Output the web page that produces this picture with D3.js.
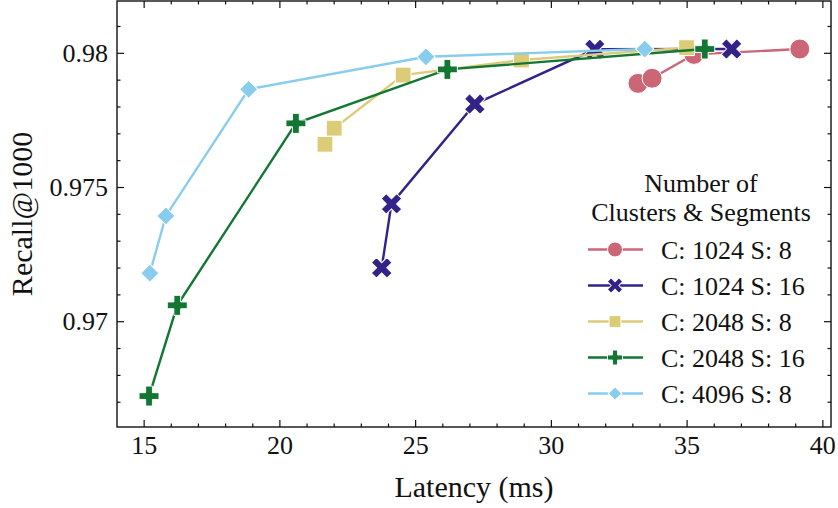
<!DOCTYPE html>
<html>
<head>
<meta charset="utf-8">
<script src="https://cdn.jsdelivr.net/npm/d3@7"></script>
<style>
  html, body { margin: 0; padding: 0; background: #fff; }
</style>
</head>
<body>
<div id="chart"></div>
<script>
// series (latency in ms, recall@1000)
var seriesNames = ["C: 1024 S: 8", "C: 1024 S: 16", "C: 2048 S: 8", "C: 2048 S: 16", "C: 4096 S: 8"];
var seriesColors = ["#CC6677", "#332288", "#DDCC77", "#117733", "#88CCEE"];
var seriesMarkers = ["circle", "x", "square", "plus", "diamond"];

var latC1024S8 = [33.19, 33.71, 35.25, 39.15];
var recallC1024S8 = [0.97888, 0.97907, 0.97996, 0.98016];

var latC1024S16 = [23.75, 24.11, 27.18, 31.60, 36.64];
var recallC1024S16 = [0.97201, 0.97439, 0.97811, 0.98015, 0.98016];

var latC2048S8 = [21.66, 22.00, 24.54, 28.90, 34.98];
var recallC2048S8 = [0.97661, 0.97721, 0.97919, 0.97975, 0.98021];

var latC2048S16 = [15.18, 16.22, 20.59, 26.17, 35.65];
var recallC2048S16 = [0.96723, 0.97061, 0.97739, 0.97940, 0.98016];

var latC4096S8 = [15.21, 15.80, 18.85, 25.38, 33.44];
var recallC4096S8 = [0.97181, 0.97394, 0.97866, 0.97987, 0.98016];

var xTicks = [15, 20, 25, 30, 35, 40];
var yTicks = [0.97, 0.975, 0.98];
var yTickLabels = ["0.97", "0.975", "0.98"];

var latencies = [latC1024S8, latC1024S16, latC2048S8, latC2048S16, latC4096S8];
var recalls = [recallC1024S8, recallC1024S16, recallC2048S8, recallC2048S16, recallC4096S8];

var fontFam = "'Liberation Serif', 'Times New Roman', 'DejaVu Serif', serif";
var width = 838, height = 508;
var plot = {left: 117, right: 831, top: 1, bottom: 427};

var svg = d3.select("#chart").append("svg")
    .attr("width", width)
    .attr("height", height)
    .style("font-family", fontFam);

var x = d3.scaleLinear().domain([14.0, 40.3]).range([plot.left, plot.right]);
var y = d3.scaleLinear().domain([0.966077, 0.981949]).range([plot.bottom, plot.top]);

// thick cross, half length a, half thickness b
function crossPath(a, b) {
    return "M" + (-b) + "," + (-a) + "H" + b + "V" + (-b) + "H" + a + "V" + b + "H" + b +
        "V" + a + "H" + (-b) + "V" + b + "H" + (-a) + "V" + (-b) + "H" + (-b) + "Z";
}

// marker shapes, roughly matplotlib's o, X, s, P, D
function markerPath(kind, k) {
    k = k || 1;
    if (kind === "circle") return d3.symbol(d3.symbolCircle, 314 * k * k)();
    if (kind === "square") return d3.symbol(d3.symbolSquare, 250 * k * k)();
    if (kind === "diamond") return d3.symbol(d3.symbolSquare, 165 * k * k)();
    if (kind === "plus") return crossPath(10 * k, 3.4 * k);
    if (kind === "x") return crossPath(11 * k, 3.6 * k);
}
function markerRot(kind) {
    return (kind === "x" || kind === "diamond") ? 45 : 0;
}

// ticks, inward on all four sides
var minorX = d3.range(14, 41, 1);
var minorY = d3.range(0.967, 0.9815, 0.001);
var tickG = svg.append("g").attr("stroke", "#111").attr("stroke-width", 1.2);

minorX.forEach(function(v) {
    var len = (v % 5 === 0) ? 7 : 3.5;
    var px = x(v);
    if (px < plot.left + 1 || px > plot.right - 1) return;
    tickG.append("line").attr("x1", px).attr("x2", px).attr("y1", plot.bottom).attr("y2", plot.bottom - len);
    tickG.append("line").attr("x1", px).attr("x2", px).attr("y1", plot.top).attr("y2", plot.top + len);
});
minorY.forEach(function(v) {
    var isMajor = Math.abs(v * 1000 - Math.round(v * 200) * 5) < 0.01;
    var len = isMajor ? 7 : 3.5;
    var py = y(v);
    tickG.append("line").attr("x1", plot.left).attr("x2", plot.left + len).attr("y1", py).attr("y2", py);
    tickG.append("line").attr("x1", plot.right).attr("x2", plot.right - len).attr("y1", py).attr("y2", py);
});

// tick labels
svg.append("g").selectAll("text")
    .data(xTicks)
    .enter()
    .append("text")
        .attr("x", function(d) { return x(d); })
        .attr("y", 454)
        .attr("text-anchor", "middle")
        .attr("font-family", fontFam)
        .attr("font-size", "26px")
        .attr("fill", "#111")
        .text(function(d) { return d; });

svg.append("g").selectAll("text")
    .data(yTicks)
    .enter()
    .append("text")
        .attr("x", plot.left - 9)
        .attr("y", function(d) { return y(d) + 8.5; })
        .attr("text-anchor", "end")
        .attr("font-family", fontFam)
        .attr("font-size", "26px")
        .attr("fill", "#111")
        .text(function(d, i) { return yTickLabels[i]; });

// axis titles
svg.append("text")
    .attr("x", (plot.left + plot.right) / 2)
    .attr("y", 497)
    .attr("text-anchor", "middle")
    .attr("font-family", fontFam)
    .attr("font-size", "30px")
    .attr("fill", "#111")
    .text("Latency (ms)");

svg.append("text")
    .attr("transform", "translate(32," + (plot.top + plot.bottom) / 2 + ") rotate(-90)")
    .attr("text-anchor", "middle")
    .attr("font-family", fontFam)
    .attr("font-size", "30px")
    .attr("fill", "#111")
    .text("Recall@1000");

// series
var line = d3.line()
    .x(function(d) { return x(d[0]); })
    .y(function(d) { return y(d[1]); });

seriesNames.forEach(function(name, i) {
    var pts = latencies[i].map(function(v, j) { return [v, recalls[i][j]]; });
    var g = svg.append("g").attr("class", "series");
    g.append("path")
        .datum(pts)
        .attr("d", line)
        .attr("fill", "none")
        .attr("stroke", seriesColors[i])
        .attr("stroke-width", 2.4);
    g.selectAll(".marker")
        .data(pts)
        .enter()
        .append("path")
            .attr("class", "marker")
            .attr("d", markerPath(seriesMarkers[i]))
            .attr("transform", function(d) {
                return "translate(" + x(d[0]) + "," + y(d[1]) + ") rotate(" + markerRot(seriesMarkers[i]) + ")";
            })
            .attr("fill", seriesColors[i])
            .attr("stroke", "#fff")
            .attr("stroke-width", 1);
});

// frame
svg.append("rect")
    .attr("x", plot.left)
    .attr("y", plot.top)
    .attr("width", plot.right - plot.left)
    .attr("height", plot.bottom - plot.top)
    .attr("fill", "none")
    .attr("stroke", "#111")
    .attr("stroke-width", 1.4);

// legend
var legend = svg.append("g").attr("class", "legend");
legend.append("text")
    .attr("x", 701).attr("y", 192)
    .attr("text-anchor", "middle")
    .attr("font-family", fontFam)
    .attr("font-size", "26px")
    .attr("fill", "#111")
    .text("Number of");
legend.append("text")
    .attr("x", 701).attr("y", 221)
    .attr("text-anchor", "middle")
    .attr("font-family", fontFam)
    .attr("font-size", "26px")
    .attr("fill", "#111")
    .text("Clusters & Segments");

seriesNames.forEach(function(name, i) {
    var cy = 249.5 + i * 36;
    legend.append("line")
        .attr("x1", 588).attr("x2", 643)
        .attr("y1", cy).attr("y2", cy)
        .attr("stroke", seriesColors[i])
        .attr("stroke-width", 2.4);
    legend.append("path")
        .attr("d", markerPath(seriesMarkers[i], 0.75))
        .attr("transform", "translate(615," + cy + ") rotate(" + markerRot(seriesMarkers[i]) + ")")
        .attr("fill", seriesColors[i])
        .attr("stroke", "#fff")
        .attr("stroke-width", 1);
    legend.append("text")
        .attr("x", 661)
        .attr("y", cy + 9)
        .attr("font-family", fontFam)
        .attr("font-size", "26px")
        .attr("fill", "#111")
        .text(name);
});
</script>
</body>
</html>
